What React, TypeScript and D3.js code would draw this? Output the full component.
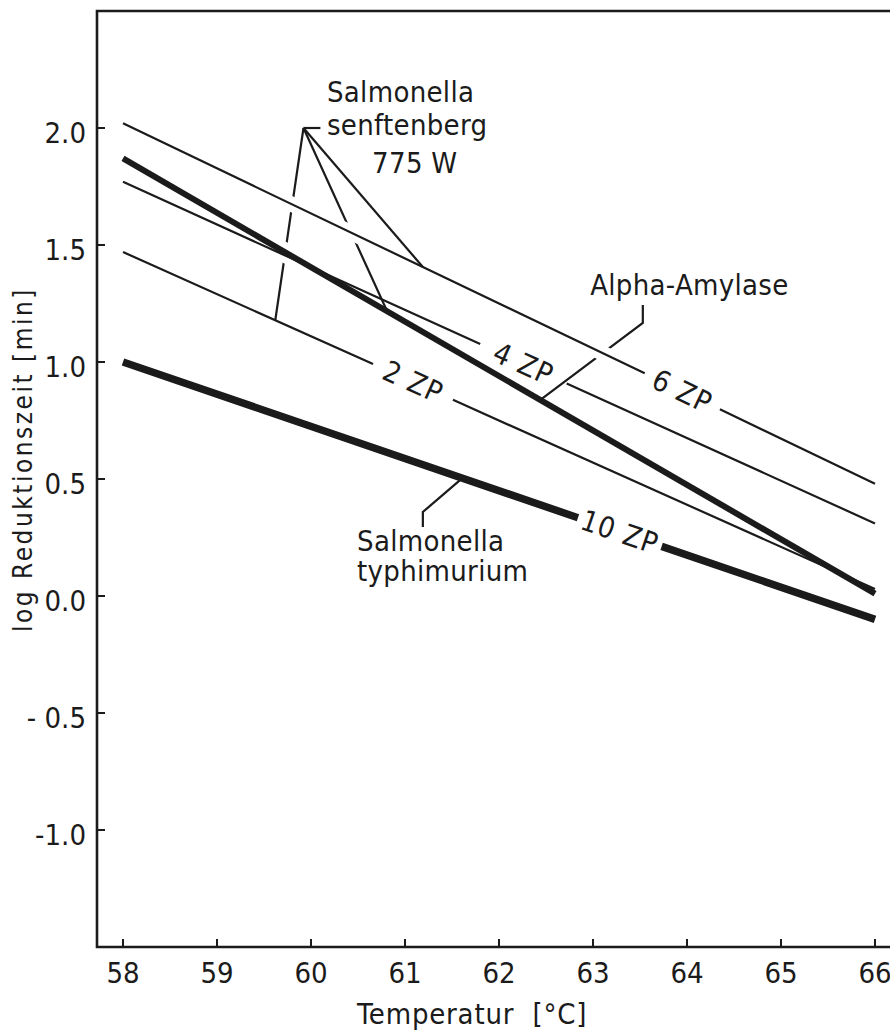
import React, { useEffect, useRef } from 'react';
import * as d3 from 'd3';

// temperatures at which each line was read (start / end of the diagram)
const temps = [58, 66];

// log reduction times (min)
const zp6 = [2.02, 0.48];
const zp4 = [1.77, 0.31];
const zp2 = [1.47, 0.03];
const amylase = [1.87, 0.01];
const typhimurium = [1.0, -0.1];

const xTicks = [58, 59, 60, 61, 62, 63, 64, 65, 66];
const yTicks = [2.0, 1.5, 1.0, 0.5, 0.0, -0.5, -1.0];
const yTickLabels = ['2.0', '1.5', '1.0', '0.5', '0.0', '- 0.5', '-1.0'];

const FONT = "'DejaVu Sans Condensed', 'DejaVu Sans', sans-serif";
const INK = '#1b1b1b';

const App = () => {
  const svgRef = useRef<SVGSVGElement>(null);

  useEffect(() => {
    const width = 890;
    const height = 1030;
    const frame = { left: 97, right: 890, top: 11, bottom: 947 };

    const svg = d3.select(svgRef.current);
    svg.selectAll('*').remove();
    svg.attr('width', width).attr('height', height);

    const x = d3.scaleLinear().domain([58, 66]).range([123, 875]);
    const y = d3.scaleLinear().domain([-1.5, 2.5]).range([frame.bottom, frame.top]);

    const series = [
      { key: 'zp6', values: zp6, w: 2.2, gap: [63.55, 64.35], label: '6 ZP' },
      { key: 'zp4', values: zp4, w: 2.2, gap: [61.8, 62.72], label: '4 ZP' },
      { key: 'zp2', values: zp2, w: 2.2, gap: [60.66, 61.51], label: '2 ZP' },
      { key: 'amylase', values: amylase, w: 6, gap: null, label: '' },
      { key: 'typhi', values: typhimurium, w: 7.5, gap: [62.84, 63.73], label: '10 ZP' },
    ];

    const line = d3
      .line<[number, number]>()
      .x(d => x(d[0]))
      .y(d => y(d[1]));

    svg.append('rect').attr('width', width).attr('height', height).attr('fill', '#fff');

    const defs = svg.append('defs');
    const leaderLayer = svg.append('g');
    const lineLayer = svg.append('g');

    // data lines, with a gap for the ZP label
    const paths: Record<string, SVGPathElement> = {};
    series.forEach(s => {
      const pts = temps.map((t, i) => [t, s.values[i]] as [number, number]);
      const p = lineLayer
        .append('path')
        .attr('d', line(pts))
        .attr('fill', 'none')
        .attr('stroke', INK)
        .attr('stroke-width', s.w);
      const node = p.node() as SVGPathElement;
      paths[s.key] = node;
      if (s.gap) {
        const L = node.getTotalLength();
        const f0 = (s.gap[0] - 58) / 8;
        const f1 = (s.gap[1] - 58) / 8;
        p.attr('stroke-dasharray', `${f0 * L} ${(f1 - f0) * L} ${L}`);
        const mid = node.getPointAtLength(((f0 + f1) / 2) * L);
        const ang =
          (Math.atan2(y(s.values[1]) - y(s.values[0]), x(66) - x(58)) * 180) / Math.PI;
        lineLayer
          .append('text')
          .attr('transform', `translate(${mid.x},${mid.y}) rotate(${ang})`)
          .attr('text-anchor', 'middle')
          .attr('dominant-baseline', 'central')
          .attr('font-family', FONT)
          .attr('font-size', 29)
          .attr('letter-spacing', 1)
          .attr('fill', INK)
          .text(s.label);
      }
    });

    const onSeries = (key: string, t: number) => {
      const node = paths[key];
      const pt = node.getPointAtLength(((t - 58) / 8) * node.getTotalLength());
      return [pt.x, pt.y];
    };

    // leader lines, broken where they cross other lines
    const leaders = [
      { pts: [[59.92, 2.0], [60.1, 2.0]], end: null, cut: [] },
      { pts: [[59.92, 2.0]], end: ['zp2', 59.62], cut: ['zp6', 'zp4', 'amylase'] },
      { pts: [[59.92, 2.0]], end: ['amylase', 60.81], cut: ['zp6'] },
      { pts: [[59.92, 2.0]], end: ['zp6', 61.19], cut: [] },
      { pts: [[63.53, 1.244], [63.53, 1.167]], end: ['amylase', 62.44], cut: ['zp6'] },
      { pts: [[61.19, 0.295], [61.19, 0.359]], end: ['typhi', 61.61], cut: [] },
    ];

    leaders.forEach((ld, i) => {
      const coords = ld.pts.map(p => [x(p[0]), y(p[1])]);
      if (ld.end) coords.push(onSeries(ld.end[0] as string, ld.end[1] as number));
      const el = leaderLayer
        .append('path')
        .attr('d', d3.line()(coords as [number, number][]))
        .attr('fill', 'none')
        .attr('stroke', INK)
        .attr('stroke-width', 2.2)
        .attr('stroke-linejoin', 'miter');
      if (ld.cut.length) {
        const m = defs
          .append('mask')
          .attr('id', `cut${i}`)
          .attr('maskUnits', 'userSpaceOnUse')
          .attr('x', 0)
          .attr('y', 0)
          .attr('width', width)
          .attr('height', height);
        m.append('rect').attr('width', width).attr('height', height).attr('fill', '#fff');
        ld.cut.forEach(k => {
          const s = series.find(d => d.key === k)!;
          m.append('path')
            .attr('d', paths[k].getAttribute('d'))
            .attr('fill', 'none')
            .attr('stroke', '#000')
            .attr('stroke-width', s.w + 13);
        });
        el.attr('mask', `url(#cut${i})`);
      }
    });

    // frame
    svg
      .append('path')
      .attr(
        'd',
        `M${frame.right},${frame.top}H${frame.left}V${frame.bottom}H${frame.right}`
      )
      .attr('fill', 'none')
      .attr('stroke', INK)
      .attr('stroke-width', 2.6);

    // ticks (pointing inward)
    svg
      .append('g')
      .selectAll('line')
      .data(xTicks)
      .join('line')
      .attr('x1', d => x(d))
      .attr('x2', d => x(d))
      .attr('y1', frame.bottom)
      .attr('y2', frame.bottom - 8)
      .attr('stroke', INK)
      .attr('stroke-width', 2);

    svg
      .append('g')
      .selectAll('line')
      .data(yTicks)
      .join('line')
      .attr('x1', frame.left)
      .attr('x2', frame.left + 8)
      .attr('y1', d => y(d))
      .attr('y2', d => y(d))
      .attr('stroke', INK)
      .attr('stroke-width', 2);

    const text = (g: any) =>
      g.attr('font-family', FONT).attr('fill', INK);

    svg
      .append('g')
      .call(text)
      .attr('font-size', 29)
      .selectAll('text')
      .data(xTicks)
      .join('text')
      .attr('x', d => x(d))
      .attr('y', frame.bottom + 36)
      .attr('text-anchor', 'middle')
      .text(d => d);

    svg
      .append('g')
      .call(text)
      .attr('font-size', 29)
      .selectAll('text')
      .data(yTicks)
      .join('text')
      .attr('x', 86)
      .attr('y', d => y(d) + 15)
      .attr('text-anchor', 'end')
      .style('white-space', 'pre')
      .text((d, i) => yTickLabels[i]);

    // axis titles
    svg
      .append('text')
      .call(text)
      .attr('x', 357)
      .attr('y', 1024)
      .attr('font-size', 29)
      .attr('letter-spacing', 0.8)
      .style('white-space', 'pre')
      .text('Temperatur  [°C]');

    svg
      .append('text')
      .call(text)
      .attr('transform', 'translate(32,632) rotate(-90)')
      .attr('font-size', 26)
      .attr('letter-spacing', 2.5)
      .text('log Reduktionszeit [min]');

    // annotations
    const notes = [
      { t: 60.17, v: 2.111, s: 'Salmonella' },
      { t: 60.17, v: 1.97, s: 'senftenberg' },
      { t: 60.65, v: 1.808, s: '775 W' },
      { t: 62.97, v: 1.286, s: 'Alpha-Amylase' },
      { t: 60.49, v: 0.192, s: 'Salmonella' },
      { t: 60.49, v: 0.064, s: 'typhimurium' },
    ];
    svg
      .append('g')
      .call(text)
      .attr('font-size', 29)
      .attr('letter-spacing', 0.3)
      .selectAll('text')
      .data(notes)
      .join('text')
      .attr('x', d => x(d.t))
      .attr('y', d => y(d.v))
      .text(d => d.s);
  }, []);

  return (
    <>
      <style>{'body{margin:0;background:#fff}'}</style>
      <svg ref={svgRef} style={{ display: 'block' }}></svg>
    </>
  );
};

export default App;
